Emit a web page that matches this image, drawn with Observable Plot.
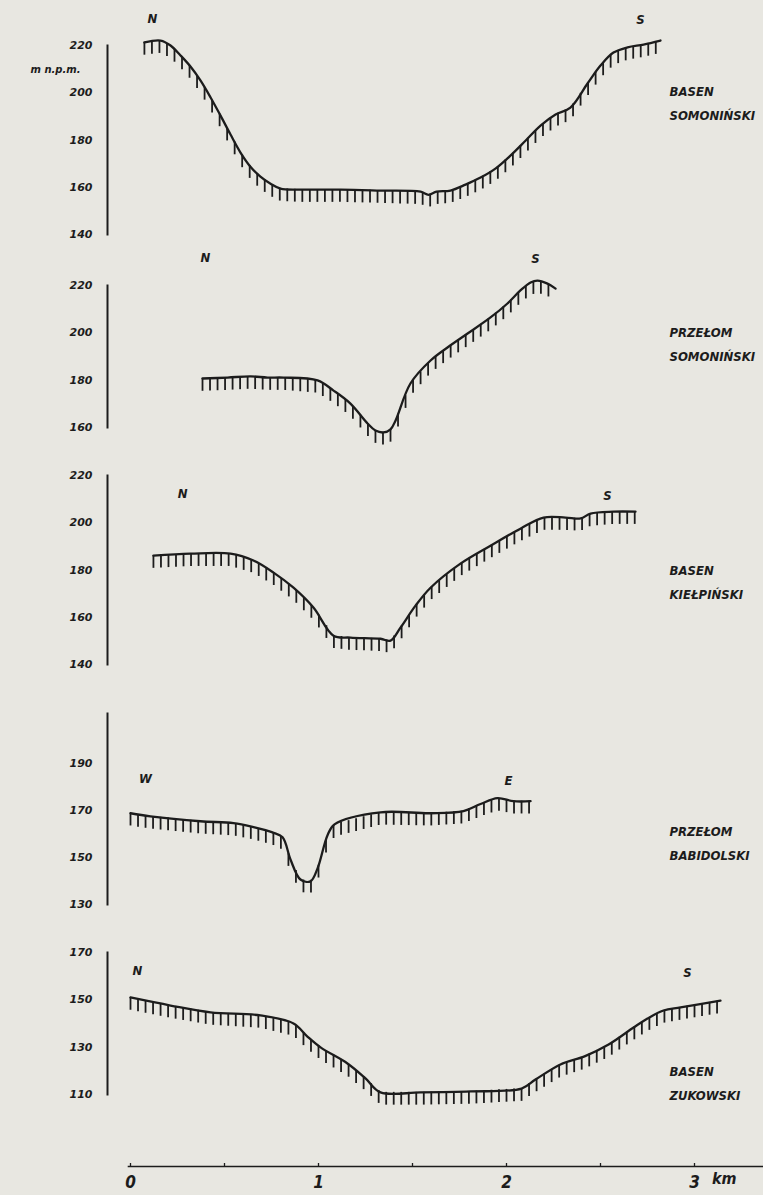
<!DOCTYPE html>
<html>
<head>
<meta charset="utf-8">
<script src="https://cdn.jsdelivr.net/npm/d3@7"></script>
<script src="https://cdn.jsdelivr.net/npm/@observablehq/plot@0.6"></script>
<style>
  html, body { margin: 0; padding: 0; background: #e8e7e1; }
  #chart { position: relative; width: 763px; height: 1195px; overflow: hidden; }
  #chart svg { position: absolute; left: 0; top: 0; background: transparent; }
</style>
</head>
<body>
<div id="chart"></div>
<script>
// ---------- data (distance in km, elevation in m n.p.m.) ----------
const basenSomoninskiKm   = [0.074,0.160,0.213,0.266,0.319,0.372,0.426,0.479,0.532,0.585,0.638,0.691,0.745,0.798,0.904,1.117,1.330,1.543,1.585,1.628,1.702,1.782,1.862,1.941,2.021,2.101,2.181,2.261,2.340,2.431,2.500,2.569,2.644,2.729,2.819];
const basenSomoninskiElev = [221.3,222.1,220.0,215.8,211.1,205.2,198.0,190.3,182.3,174.7,168.7,164.5,161.5,159.4,159.0,159.0,158.6,158.1,156.8,158.1,158.6,161.1,164.1,167.9,173.4,179.7,186.1,190.8,193.7,203.9,211.5,217.0,219.2,220.4,222.1];

const przelomSomoninskiKm   = [0.383,0.516,0.638,0.729,0.814,0.995,1.080,1.170,1.261,1.303,1.346,1.383,1.410,1.489,1.596,1.686,1.793,1.915,2.005,2.074,2.128,2.165,2.218,2.261];
const przelomSomoninskiElev = [180.7,181.1,181.6,181.1,181.1,179.9,175.6,170.1,161.7,158.7,157.9,159.2,163.0,178.6,188.3,193.8,199.7,206.5,212.4,217.9,221.3,222.1,220.8,218.7];

const basenKielpinskiKm   = [0.122,0.319,0.532,0.654,0.761,0.867,0.973,1.080,1.170,1.330,1.383,1.436,1.516,1.596,1.755,1.915,2.074,2.197,2.314,2.394,2.447,2.569,2.686];
const basenKielpinskiElev = [186.1,186.9,186.9,184.0,178.9,172.5,164.1,152.2,151.4,150.9,150.1,155.6,164.9,172.5,182.7,190.3,197.5,202.2,202.2,201.8,203.9,204.7,204.7];

const przelomBabidolskiKm   = [0.000,0.106,0.372,0.548,0.654,0.755,0.809,0.851,0.904,0.957,0.995,1.048,1.085,1.330,1.596,1.771,1.862,1.952,2.037,2.128];
const przelomBabidolskiElev = [168.7,167.4,165.3,164.5,162.8,160.6,158.5,149.1,140.6,139.8,145.3,159.4,164.0,169.1,168.7,169.6,172.6,175.1,173.8,173.8];

const basenZukowskiKm   = [0.000,0.213,0.426,0.691,0.867,0.941,1.011,1.154,1.250,1.330,1.543,1.809,2.080,2.154,2.287,2.415,2.543,2.676,2.750,2.835,2.926,3.138];
const basenZukowskiElev = [151.0,147.6,144.7,143.4,140.0,134.5,129.9,123.1,116.8,110.9,110.9,111.3,112.5,116.3,122.7,126.1,131.1,138.3,142.1,145.5,146.8,149.7];

// tick labels
const ticksSomoninski  = [140,160,180,200,220];
const ticksPrzelomSom  = [160,180,200,220];
const ticksKielpinski  = [140,160,180,200,220];
const ticksBabidolski  = [130,150,170,190];
const ticksZukowski    = [110,130,150,170];
const kmTicks          = [0,1,2,3];
const kmMinorTicks     = [0,0.5,1,1.5,2,2.5,3];

// panel names and direction labels
const panelNames = ["BASEN\nSOMONIŃSKI","PRZEŁOM\nSOMONIŃSKI","BASEN\nKIEŁPIŃSKI","PRZEŁOM\nBABIDOLSKI","BASEN\nZUKOWSKI"];
const dirSomoninski  = [{t:"N",km:0.117,m:231.4},{t:"S",km:2.713,m:231.0}];
const dirPrzelomSom  = [{t:"N",km:0.399,m:231.8},{t:"S",km:2.154,m:231.4}];
const dirKielpinski  = [{t:"N",km:0.277,m:212.4},{t:"S",km:2.537,m:211.5}];
const dirBabidolski  = [{t:"W",km:0.080,m:183.2},{t:"E",km:2.010,m:182.3}];
const dirZukowski    = [{t:"N",km:0.037,m:162.4},{t:"S",km:2.963,m:161.5}];
const unitLabel = "m n.p.m.";

// ---------- layout ----------
const W = 763, H = 1195;
const X0 = 130, X3 = 694;           // pixel position of 0 km and 3 km
const AXIS_X = 107;
const NAME_X = 669;
const INK = "#1c1c1c";
const HAND = "'DejaVu Sans Condensed', 'Liberation Sans Narrow', sans-serif";
const DIGITS = "'DejaVu Sans', sans-serif";

const panels = [
  {km: basenSomoninskiKm, elev: basenSomoninskiElev, ticks: ticksSomoninski, dirs: dirSomoninski, name: panelNames[0], domain:[140,220], top:45,  bottom:234,  nameY:99.5, unit:true},
  {km: przelomSomoninskiKm, elev: przelomSomoninskiElev, ticks: ticksPrzelomSom, dirs: dirPrzelomSom, name: panelNames[1], domain:[160,220], top:285, bottom:427, nameY:340.5},
  {km: basenKielpinskiKm, elev: basenKielpinskiElev, ticks: ticksKielpinski, dirs: dirKielpinski, name: panelNames[2], domain:[140,220], top:475, bottom:664, nameY:578.5},
  {km: przelomBabidolskiKm, elev: przelomBabidolskiElev, ticks: ticksBabidolski, dirs: dirBabidolski, name: panelNames[3], domain:[130,211], top:713, bottom:904, nameY:840},
  {km: basenZukowskiKm, elev: basenZukowskiElev, ticks: ticksZukowski, dirs: dirZukowski, name: panelNames[4], domain:[110,170], top:952, bottom:1094, nameY:1080}
];

// hachure positions along the drawn profile (decoration)
function hachures(km, elev, step, len) {
  const out = [];
  const a = km[0], b = km[km.length - 1];
  for (let x = a; x <= b + 1e-9; x += step) {
    let j = d3.bisectRight(km, x) - 1;
    j = Math.max(0, Math.min(km.length - 2, j));
    const t = (x - km[j]) / (km[j + 1] - km[j]);
    const e = elev[j] + t * (elev[j + 1] - elev[j]);
    out.push({km: x, top: e, bot: e - len});
  }
  return out;
}

const chart = document.getElementById("chart");

for (const p of panels) {
  const profile = p.km.map((k, i) => ({km: k, m: p.elev[i]}));
  const marks = [
    Plot.frame({anchor: "left", stroke: INK, strokeWidth: 2}),
    Plot.axisY(p.ticks, {anchor: "left", tickSize: 0, tickPadding: 15, label: null,
      fontFamily: DIGITS, fontSize: 11, fontWeight: "bold", fontStyle: "italic", fill: INK}),
    Plot.ruleX(hachures(p.km, p.elev, 0.04, 5.4), {x: "km", y1: "top", y2: "bot", stroke: INK, strokeWidth: 1.8}),
    Plot.line(profile, {x: "km", y: "m", curve: "catmull-rom", stroke: INK, strokeWidth: 2.3}),
    Plot.text(p.dirs, {x: "km", y: "m", text: "t", fontFamily: HAND, fontSize: 13, fontWeight: "bold", fontStyle: "italic", fill: INK}),
    Plot.text([p.name], {frameAnchor: "top-left", dx: NAME_X - AXIS_X, dy: p.nameY - p.top, textAnchor: "start", lineAnchor: "middle",
      lineHeight: 1.85, fontFamily: HAND, fontSize: 13, fontWeight: "bold", fontStyle: "italic", fill: INK})
  ];
  if (p.unit) {
    marks.push(Plot.text([unitLabel], {frameAnchor: "top-left", dx: 30 - AXIS_X, dy: 65 - p.top,
      fontFamily: DIGITS, fontSize: 10, fontWeight: "bold", fontStyle: "italic", fill: INK}));
  }
  const svg = Plot.plot({
    width: W, height: H,
    marginLeft: AXIS_X, marginRight: 0, marginTop: p.top, marginBottom: H - p.bottom,
    x: {domain: [0, 3], range: [X0, X3], axis: null},
    y: {domain: p.domain},
    style: {background: "transparent", overflow: "visible"},
    marks
  });
  chart.appendChild(svg);
}

// distance axis
const axisSvg = Plot.plot({
  width: W, height: H,
  marginLeft: 128, marginRight: 0, marginTop: 1100, marginBottom: H - 1166,
  x: {domain: [0, 3], range: [X0, X3], axis: null},
  style: {background: "transparent", overflow: "visible"},
  marks: [
    Plot.frame({anchor: "bottom", stroke: INK, strokeWidth: 1.6}),
    Plot.ruleX(kmMinorTicks, {x: d => d, insetTop: 63, stroke: INK, strokeWidth: 1.3}),
    Plot.axisX(kmTicks, {anchor: "bottom", tickSize: 0, tickPadding: 9, label: null, tickFormat: d3.format("d"),
      fontFamily: HAND, fontSize: 17, fontWeight: "bold", fontStyle: "italic", fill: INK}),
    Plot.text(["km"], {frameAnchor: "bottom-right", dx: -27, dy: 17, fontFamily: HAND, fontSize: 16,
      fontWeight: "bold", fontStyle: "italic", fill: INK})
  ]
});
chart.appendChild(axisSvg);
</script>
</body>
</html>
